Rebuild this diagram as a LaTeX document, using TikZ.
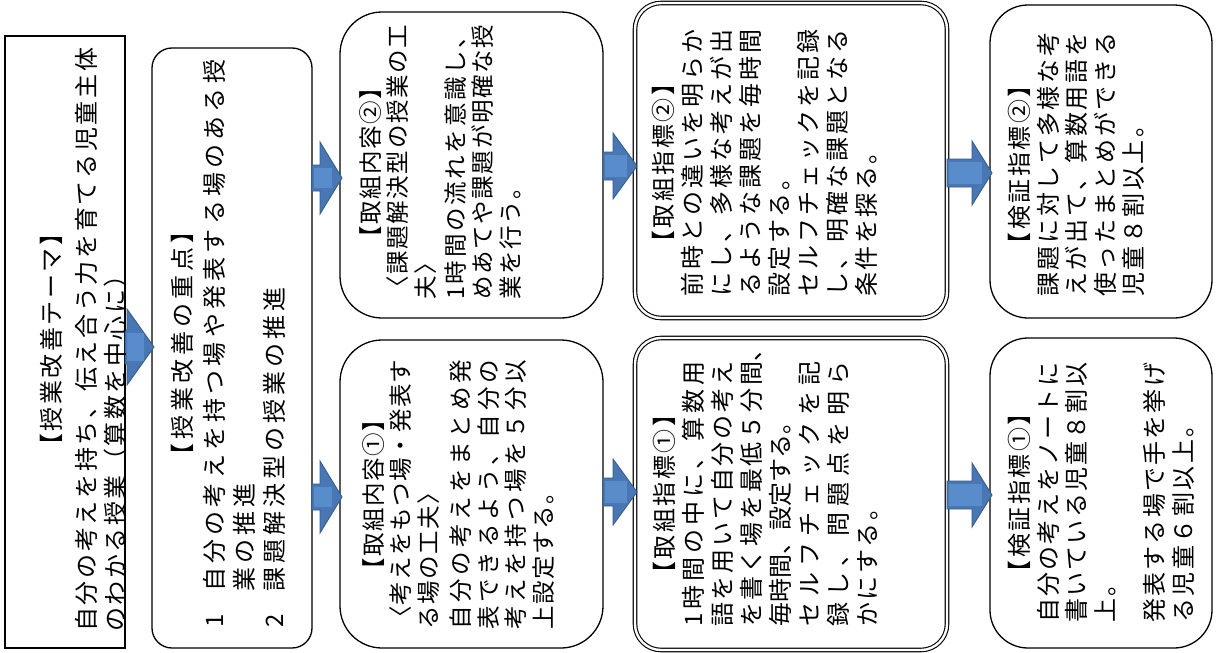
\documentclass[tikz,border=0pt]{standalone}
\usepackage{fontspec}
\newfontfamily\jp{Noto Sans CJK JP}
\usetikzlibrary{calc}
\definecolor{arrfill}{RGB}{72,119,179}
\definecolor{arrlight}{RGB}{88,140,202}
\definecolor{arrline}{RGB}{56,93,138}
\newdimen\chsp \chsp=2.5pt
\makeatletter
\def\spr@a#1{#1\spr@b}
\def\spr@b#1{\ifx#1\spr@end\else\hskip\chsp\spr@g\relax#1\expandafter\spr@b\fi}
\def\spr@end{\spr@end}
\newcommand\Jw[2]{\def\spr@g{plus 1fil minus 1fil}\makebox[#1][s]{\spr@a#2\spr@end}}
\newcommand\J[1]{\Jw{\hsize}{#1}}
\newcommand\N[1]{\def\spr@g{}\mbox{\spr@a#1\spr@end}}
\newcommand\C[1]{\makebox[\hsize][c]{\N{#1}}}
\makeatother
\newcommand\barrow[6]{%
  \filldraw[arrowstyle] let \p1=(#1.east |- 0,#3), \p2=(#2.west |- 0,#3) in
    (\x1,\y1+#5pt) -- (\x2-#6pt,\y1+#5pt) -- (\x2-#6pt,\y1+#4pt) -- (\x2+2pt,\y1)
    -- (\x2-#6pt,\y1-#4pt) -- (\x2-#6pt,\y1-#5pt) -- (\x1,\y1-#5pt) -- cycle;
  \fill[arrlight] let \p1=(#1.east |- 0,#3), \p2=(#2.west |- 0,#3) in
    (\x1+2pt,\y1+#5pt-3pt) rectangle (\x2-8pt,\y1-#5pt+3pt);}
\begin{document}
\begin{tikzpicture}[x=1pt,y=-1pt,
  boxbase/.style={draw=black, line width=1.3pt, fill=white, inner sep=0pt, outer sep=0pt, anchor=north west},
  sqbox/.style={boxbase},
  rbox/.style={boxbase, rounded corners=#1},
  dbox/.style={boxbase, rounded corners=#1, double=white, double distance=2.4pt, line width=1.1pt},
  arrowstyle/.style={fill=arrfill, draw=arrline, line width=0.9pt, line join=miter},
  txt/.style={font={\jp\fontsize{24}{29}\selectfont\chsp=2.5pt}, inner sep=0pt, rotate=90, anchor=north west, align=left},
  txts/.style={txt, font={\jp\fontsize{23.5}{27.5}\selectfont\chsp=1.5pt}}]
\useasboundingbox (0,0) rectangle (1216,653);
\fill[white] (0,0) rectangle (1216,653);
% boxes
\node[sqbox, minimum width=120pt, minimum height=612pt] (t) at (5,36) {};
\node[rbox=20pt, minimum width=160pt, minimum height=600pt] (p) at (152,48) {};
\node[rbox=42pt, minimum width=263pt, minimum height=306pt] (c2) at (340,12) {};
\node[rbox=42pt, minimum width=263pt, minimum height=308pt] (c1) at (340,340) {};
\node[dbox=26pt, minimum width=312pt, minimum height=315pt] (g2) at (635,3) {};
\node[dbox=26pt, minimum width=312pt, minimum height=312pt] (g1) at (635,338) {};
\node[rbox=38pt, minimum width=222pt, minimum height=313pt] (v2) at (990,5) {};
\node[rbox=38pt, minimum width=222pt, minimum height=310pt] (v1) at (990,338) {};
% arrows
\barrow{t}{p}{347}{38}{17}{25}
\barrow{p}{c2}{178}{36}{13}{20}
\barrow{p}{c1}{497}{36}{13}{20}
\barrow{c2}{g2}{166}{33}{14}{22}
\barrow{c1}{g1}{492}{33}{14}{22}
\barrow{g2}{v2}{173}{32}{14}{18}
\barrow{g1}{v1}{495}{32}{14}{18}
% texts
\node[txt, text width=584pt] (tt) at (40,632) {\C{【授業改善テーマ】}\\[6pt]\J{自分の考えを持ち、伝え合う力を育てる児童主体}\\\N{のわかる授業（算数を中心に）}};
\node[txt, text width=568pt, font={\jp\fontsize{24}{30}\selectfont\chsp=4pt}] (pt) at (171,628) {\C{【授業改善の重点】}\\[2pt]\makebox[36pt][l]{1}\Jw{532pt}{自分の考えを持つ場や発表する場のある授}\\\hspace*{36pt}\N{業の推進}\\\makebox[36pt][l]{2}\N{課題解決型の授業の推進}};
\node[txts, text width=275pt] (c2t) at (359,300) {\C{【取組内容②】}\\\J{〈課題解決型の授業の工}\\\N{夫〉}\\[2.5pt]\J{1時間の流れを意識し、}\\\J{めあてや課題が明確な授}\\\N{業を行う。}};
\node[txts, text width=270pt] (c1t) at (362,630) {\C{【取組内容①】}\\\J{〈考えをもつ場・発表す}\\\N{る場の工夫〉}\\[5pt]\J{自分の考えをまとめ発}\\\J{表できるよう、自分の}\\\J{考えを持つ場を５分以}\\\N{上設定する。}};
\node[txt, text width=267pt] (g2t) at (652,297) {\C{【取組指標②】}\\\J{前時との違いを明らか}\\\J{にし、多様な考えが出}\\\J{るような課題を毎時間}\\\N{設定する。}\\\J{セルフチェックを記録}\\\J{し、明確な課題となる}\\\N{条件を探る。}};
\node[txt, text width=265pt] (g1t) at (653,627) {\C{【取組指標①】}\\\J{1時間の中に、算数用}\\\J{語を用いて自分の考え}\\\J{を書く場を最低５分間}\rlap{、}\\毎時間、設定する。\\\J{セルフチェックを記}\\\J{録し、問題点を明ら}\\\N{かにする。}};
\node[txt, text width=264pt, font={\jp\fontsize{24}{28.5}\selectfont\chsp=2.5pt}] (v2t) at (1008,297) {\C{【検証指標②】}\\\J{課題に対して多様な考}\\\J{えが出て、算数用語を}\\\J{使ったまとめができる}\\\N{児童８割以上。}};
\node[txt, text width=260pt, font={\jp\fontsize{24}{28.5}\selectfont\chsp=2.5pt}] (v1t) at (1008,623) {\C{【検証指標①】}\\\J{自分の考えをノートに}\\\J{書いている児童８割以}\\\N{上。}\\[21pt]\J{発表する場で手を挙げ}\\\N{る児童６割以上。}};
\end{tikzpicture}
\end{document}
